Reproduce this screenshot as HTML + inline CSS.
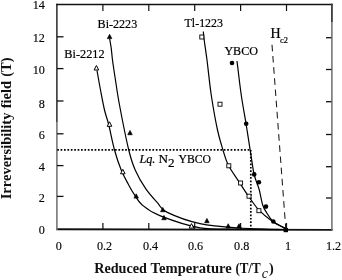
<!DOCTYPE html>
<html><head><meta charset="utf-8"><style>
html,body{margin:0;padding:0;background:#fff;}
body{width:342px;height:280px;overflow:hidden;}
svg{display:block;will-change:transform;}
.tl{font-family:"Liberation Serif",serif;font-size:13.1px;fill:#000;stroke:#000;stroke-width:0.15px;}
.lb{font-family:"Liberation Serif",serif;font-size:13.2px;fill:#000;stroke:#000;stroke-width:0.22px;}
.sub{font-size:8.4px;stroke-width:0.2px;}
.ax{font-family:"Liberation Serif",serif;font-weight:bold;font-size:14.2px;fill:#111;}
.axs{font-family:"Liberation Serif",serif;font-style:italic;font-size:14px;fill:#111;}
</style></head><body>
<svg width="342" height="280" viewBox="0 0 342 280">
<line x1="56.2" y1="4.5" x2="332.6" y2="4.5" stroke="#111" stroke-width="1.5"/>
<line x1="56.2" y1="229.3" x2="332.6" y2="229.9" stroke="#111" stroke-width="1.9"/>
<line x1="56.9" y1="3.8" x2="56.9" y2="122" stroke="#1a1a1a" stroke-width="1.4"/>
<line x1="56.9" y1="122" x2="56.9" y2="230" stroke="#777" stroke-width="1.6"/>
<line x1="331.9" y1="3.8" x2="331.9" y2="230" stroke="#6e6e6e" stroke-width="1.5"/>
<line x1="331.9" y1="3.8" x2="331.9" y2="22" stroke="#333" stroke-width="1.4"/>
<line x1="102.90" y1="229.00" x2="102.90" y2="223.00" stroke="#111" stroke-width="1.2"/>
<line x1="102.90" y1="4.50" x2="102.90" y2="11.00" stroke="#111" stroke-width="1.2"/>
<line x1="148.80" y1="229.00" x2="148.80" y2="223.00" stroke="#111" stroke-width="1.2"/>
<line x1="148.80" y1="4.50" x2="148.80" y2="11.00" stroke="#111" stroke-width="1.2"/>
<line x1="194.70" y1="229.00" x2="194.70" y2="223.00" stroke="#111" stroke-width="1.2"/>
<line x1="194.70" y1="4.50" x2="194.70" y2="11.00" stroke="#111" stroke-width="1.2"/>
<line x1="240.60" y1="229.00" x2="240.60" y2="223.00" stroke="#111" stroke-width="1.2"/>
<line x1="240.60" y1="4.50" x2="240.60" y2="11.00" stroke="#111" stroke-width="1.2"/>
<line x1="286.50" y1="229.00" x2="286.50" y2="223.00" stroke="#111" stroke-width="1.2"/>
<line x1="286.50" y1="4.50" x2="286.50" y2="11.00" stroke="#111" stroke-width="1.2"/>
<line x1="57.00" y1="196.40" x2="63.50" y2="196.40" stroke="#111" stroke-width="1.3"/>
<line x1="57.00" y1="165.60" x2="63.50" y2="165.60" stroke="#111" stroke-width="1.3"/>
<line x1="57.00" y1="133.80" x2="63.50" y2="133.80" stroke="#111" stroke-width="1.3"/>
<line x1="57.00" y1="101.00" x2="63.50" y2="101.00" stroke="#111" stroke-width="1.3"/>
<line x1="57.00" y1="68.60" x2="63.50" y2="68.60" stroke="#111" stroke-width="1.3"/>
<line x1="57.00" y1="36.80" x2="63.50" y2="36.80" stroke="#111" stroke-width="1.3"/>
<line x1="331.50" y1="198.00" x2="326.00" y2="198.00" stroke="#111" stroke-width="1.3"/>
<line x1="331.50" y1="166.70" x2="326.00" y2="166.70" stroke="#111" stroke-width="1.3"/>
<line x1="331.50" y1="134.50" x2="326.00" y2="134.50" stroke="#111" stroke-width="1.3"/>
<line x1="331.50" y1="101.70" x2="326.00" y2="101.70" stroke="#111" stroke-width="1.3"/>
<line x1="331.50" y1="69.50" x2="326.00" y2="69.50" stroke="#111" stroke-width="1.3"/>
<line x1="331.50" y1="37.70" x2="326.00" y2="37.70" stroke="#111" stroke-width="1.3"/>
<text transform="translate(44.8,234.30) scale(0.93,1)" class="tl" text-anchor="end">0</text>
<text transform="translate(44.8,202.00) scale(0.93,1)" class="tl" text-anchor="end">2</text>
<text transform="translate(44.8,171.00) scale(0.93,1)" class="tl" text-anchor="end">4</text>
<text transform="translate(44.8,139.30) scale(0.93,1)" class="tl" text-anchor="end">6</text>
<text transform="translate(44.8,107.60) scale(0.93,1)" class="tl" text-anchor="end">8</text>
<text transform="translate(44.8,74.30) scale(0.93,1)" class="tl" text-anchor="end">10</text>
<text transform="translate(44.8,42.20) scale(0.93,1)" class="tl" text-anchor="end">12</text>
<text transform="translate(44.8,9.30) scale(0.93,1)" class="tl" text-anchor="end">14</text>
<text transform="translate(58.90,249.7) scale(0.93,1)" class="tl" text-anchor="middle">0</text>
<text transform="translate(104.50,249.7) scale(0.93,1)" class="tl" text-anchor="middle">0.2</text>
<text transform="translate(150.50,249.7) scale(0.93,1)" class="tl" text-anchor="middle">0.4</text>
<text transform="translate(195.50,249.7) scale(0.93,1)" class="tl" text-anchor="middle">0.6</text>
<text transform="translate(241.70,249.7) scale(0.93,1)" class="tl" text-anchor="middle">0.8</text>
<text transform="translate(288.00,249.7) scale(0.93,1)" class="tl" text-anchor="middle">1</text>
<text transform="translate(333.50,249.7) scale(0.93,1)" class="tl" text-anchor="middle">1.2</text>
<line x1="57.2" y1="149.9" x2="250.8" y2="149.9" stroke="#000" stroke-width="1.8" stroke-dasharray="1.7 1.7"/>
<line x1="250.8" y1="149.9" x2="250.8" y2="229" stroke="#000" stroke-width="1.7" stroke-dasharray="1.7 1.7"/>
<line x1="272" y1="44.8" x2="285.8" y2="229" stroke="#1a1a1a" stroke-width="1.05" stroke-dasharray="6.6 4.6"/>
<path d="M97.00,70.50 C97.58,73.75 99.25,83.42 100.50,90.00 C101.75,96.58 103.12,104.17 104.50,110.00 C105.88,115.83 107.13,118.33 108.80,125.00 C110.47,131.67 112.43,142.50 114.50,150.00 C116.57,157.50 118.92,164.33 121.20,170.00 C123.48,175.67 126.13,180.10 128.20,184.00 C130.27,187.90 131.27,189.90 133.60,193.40 C135.93,196.90 137.83,201.30 142.20,205.00 C146.57,208.70 150.17,211.80 159.80,215.60 C169.43,219.40 186.63,225.53 200.00,227.80 C213.37,230.07 225.70,228.90 240.00,229.20 C254.30,229.50 278.17,229.53 285.80,229.60" fill="none" stroke="#000" stroke-width="1.2"/>
<path d="M109.60,38.60 C109.87,40.17 110.72,44.43 111.20,48.00 C111.68,51.57 111.87,55.17 112.50,60.00 C113.13,64.83 113.83,69.50 115.00,77.00 C116.17,84.50 117.21,92.83 119.50,105.00 C121.79,117.17 126.13,139.17 128.75,150.00 C131.37,160.83 132.38,163.55 135.20,170.00 C138.02,176.45 142.00,183.25 145.70,188.70 C149.40,194.15 153.88,198.80 157.40,202.70 C160.92,206.60 159.70,208.62 166.80,212.10 C173.90,215.58 187.80,220.95 200.00,223.60 C212.20,226.25 225.70,227.02 240.00,228.00 C254.30,228.98 278.17,229.25 285.80,229.50" fill="none" stroke="#000" stroke-width="1.2"/>
<path d="M203.30,31.50 C203.45,32.92 203.58,35.25 204.20,40.00 C204.82,44.75 205.82,50.83 207.00,60.00 C208.18,69.17 209.50,83.33 211.25,95.00 C213.00,106.67 215.54,120.83 217.50,130.00 C219.46,139.17 221.21,144.17 223.00,150.00 C224.79,155.83 225.45,159.50 228.25,165.00 C231.05,170.50 236.39,177.75 239.80,183.00 C243.21,188.25 245.50,191.97 248.70,196.50 C251.90,201.03 255.03,206.03 259.00,210.20 C262.97,214.37 268.00,218.42 272.50,221.50 C277.00,224.58 283.75,227.50 286.00,228.70" fill="none" stroke="#000" stroke-width="1.2"/>
<path d="M237.00,61.00 C237.71,66.67 239.71,84.33 241.25,95.00 C242.79,105.67 244.47,113.93 246.25,125.00 C248.03,136.07 250.61,153.23 251.90,161.40 C253.19,169.57 253.18,170.43 254.00,174.00 C254.82,177.57 255.92,180.13 256.80,182.80 C257.68,185.47 258.32,186.30 259.30,190.00 C260.28,193.70 261.50,201.25 262.70,205.00 C263.90,208.75 264.75,209.75 266.50,212.50 C268.25,215.25 269.95,218.80 273.20,221.50 C276.45,224.20 283.87,227.50 286.00,228.70" fill="none" stroke="#000" stroke-width="1.2"/>
<polygon points="96.40,65.50 94.10,70.00 98.70,70.00" fill="#fff" stroke="#000" stroke-width="1.0" stroke-linejoin="round"/>
<polygon points="109.50,121.80 107.20,126.30 111.80,126.30" fill="#fff" stroke="#000" stroke-width="1.0" stroke-linejoin="round"/>
<polygon points="122.80,169.30 120.50,173.80 125.10,173.80" fill="#fff" stroke="#000" stroke-width="1.0" stroke-linejoin="round"/>
<polygon points="191.50,223.60 189.20,228.10 193.80,228.10" fill="#fff" stroke="#000" stroke-width="1.0" stroke-linejoin="round"/>
<polygon points="109.60,34.32 107.35,38.62 111.85,38.62" fill="#000" stroke="#000" stroke-width="0.7" stroke-linejoin="round"/>
<polygon points="130.00,130.42 127.75,134.72 132.25,134.72" fill="#000" stroke="#000" stroke-width="0.7" stroke-linejoin="round"/>
<polygon points="136.20,193.82 133.95,198.12 138.45,198.12" fill="#000" stroke="#000" stroke-width="0.7" stroke-linejoin="round"/>
<polygon points="162.80,207.42 160.55,211.72 165.05,211.72" fill="#000" stroke="#000" stroke-width="0.7" stroke-linejoin="round"/>
<polygon points="164.00,215.42 161.75,219.72 166.25,219.72" fill="#000" stroke="#000" stroke-width="0.7" stroke-linejoin="round"/>
<polygon points="206.90,218.42 204.65,222.72 209.15,222.72" fill="#000" stroke="#000" stroke-width="0.7" stroke-linejoin="round"/>
<polygon points="228.20,223.72 225.95,228.02 230.45,228.02" fill="#000" stroke="#000" stroke-width="0.7" stroke-linejoin="round"/>
<polygon points="239.00,223.72 236.75,228.02 241.25,228.02" fill="#000" stroke="#000" stroke-width="0.7" stroke-linejoin="round"/>
<rect x="199.80" y="35.00" width="4.00" height="4.00" fill="#fff" stroke="#000" stroke-width="0.9"/>
<rect x="218.00" y="102.20" width="4.00" height="4.00" fill="#fff" stroke="#000" stroke-width="0.9"/>
<rect x="226.80" y="163.80" width="4.00" height="4.00" fill="#fff" stroke="#000" stroke-width="0.9"/>
<rect x="238.60" y="181.00" width="4.00" height="4.00" fill="#fff" stroke="#000" stroke-width="0.9"/>
<rect x="247.00" y="194.20" width="4.00" height="4.00" fill="#fff" stroke="#000" stroke-width="0.9"/>
<rect x="256.90" y="208.70" width="4.00" height="4.00" fill="#fff" stroke="#000" stroke-width="0.9"/>
<circle cx="232.00" cy="63.00" r="2.30" fill="#000"/>
<circle cx="246.20" cy="123.80" r="2.30" fill="#000"/>
<circle cx="254.20" cy="174.40" r="2.30" fill="#000"/>
<circle cx="258.90" cy="182.30" r="2.30" fill="#000"/>
<circle cx="266.00" cy="206.60" r="2.30" fill="#000"/>
<circle cx="273.30" cy="221.50" r="2.30" fill="#000"/>
<rect x="283.6" y="228" width="4.4" height="4.2" fill="#000"/>
<text x="64.3" y="58" class="lb" textLength="40.3" lengthAdjust="spacingAndGlyphs">Bi-2212</text>
<text x="97.6" y="27.9" class="lb" textLength="39.6" lengthAdjust="spacingAndGlyphs">Bi-2223</text>
<text x="184.6" y="27.1" class="lb" textLength="38.4" lengthAdjust="spacingAndGlyphs">Tl-1223</text>
<text x="224.4" y="54.5" class="lb" textLength="33.6" lengthAdjust="spacingAndGlyphs">YBCO</text>
<text x="270.6" y="38.1" class="lb" style="font-size:14px">H</text><text x="280.1" y="42.9" class="lb sub">c2</text>
<text x="139.4" y="162.9" class="lb" style="font-style:italic" textLength="16" lengthAdjust="spacingAndGlyphs">Lq.</text>
<text x="158.6" y="162.9" class="lb">N</text>
<text x="168.0" y="167.4" class="lb">2</text>
<text x="178.6" y="163.2" class="lb" textLength="32.4" lengthAdjust="spacingAndGlyphs">YBCO</text>
<text x="94.2" y="273.1" class="ax">Reduced</text>
<text x="150.6" y="273.1" class="ax" textLength="81.2" lengthAdjust="spacingAndGlyphs">Temperature</text>
<text x="235.4" y="273.1" class="ax" textLength="25.2" lengthAdjust="spacingAndGlyphs">(T/T</text>
<text x="261.8" y="277.8" class="axs">c</text>
<text x="268.9" y="273.1" class="ax">)</text>
<text transform="translate(10.6,199.3) rotate(-90)" x="0" y="0" class="ax" style="font-size:14.5px;word-spacing:0.6px">Irreversibility field (T)</text>
</svg>
</body></html>
